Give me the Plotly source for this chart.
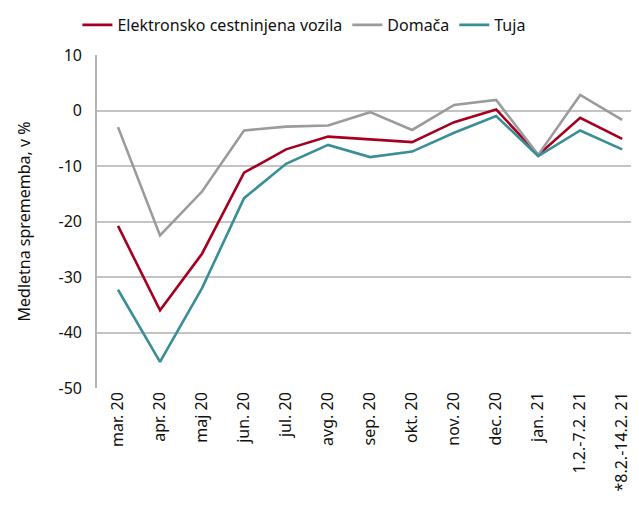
import plotly.graph_objects as go

categories = ["mar. 20", "apr. 20", "maj 20", "jun. 20", "jul. 20", "avg. 20", "sep. 20",
              "okt. 20", "nov. 20", "dec. 20", "jan. 21", "1.2.-7.2. 21", "*8.2.-14.2. 21"]
elektronsko = [-20.8, -36.0, -25.8, -11.2, -7.0, -4.7, -5.2, -5.7, -2.1, 0.2, -8.0, -1.3, -5.1]
domaca = [-3.0, -22.5, -14.6, -3.6, -2.9, -2.7, -0.3, -3.5, 1.0, 1.9, -8.0, 2.8, -1.7]
tuja = [-32.3, -45.3, -32.0, -15.8, -9.6, -6.2, -8.4, -7.4, -4.0, -1.0, -8.2, -3.6, -7.0]
y_ticks = [10, 0, -10, -20, -30, -40, -50]
y_tick_labels = ["10", "0", "-10", "-20", "-30", "-40", "-50"]

FONT = "Noto Sans"

fig = go.Figure()
fig.add_trace(go.Scatter(x=categories, y=elektronsko, mode="lines", name="Elektronsko cestninjena vozila",
                         line=dict(color="#A50021", width=2.6)))
fig.add_trace(go.Scatter(x=categories, y=domaca, mode="lines", name="Domača",
                         line=dict(color="#9B9B9B", width=2.6)))
fig.add_trace(go.Scatter(x=categories, y=tuja, mode="lines", name="Tuja",
                         line=dict(color="#3A8E96", width=2.6)))

fig.update_layout(
    width=631, height=498,
    margin=dict(l=89, r=0, t=47, b=118),
    paper_bgcolor="white", plot_bgcolor="white",
    font=dict(family=FONT, size=16, color="#111111"),
    showlegend=True,
    legend=dict(orientation="h", x=0.11, xanchor="left", xref="container",
                y=1.0, yanchor="top", yref="container",
                font=dict(size=16), traceorder="normal", itemwidth=30, tracegroupgap=0),
    xaxis=dict(type="category", tickangle=-90, showgrid=False, showline=False,
               ticks="", tickfont=dict(size=16), range=[-0.5, 12.4], automargin=False),
    yaxis=dict(range=[-50, 10], tickvals=y_ticks, ticktext=y_tick_labels,
               showgrid=True, gridcolor="#C4C4C4", gridwidth=1.6,
               zeroline=False, showline=True, linecolor="#B4B4B4", linewidth=1.6,
               ticks="", tickfont=dict(size=16), ticklabelstandoff=10, automargin=False,
               title=dict(text="Medletna sprememba, v %", font=dict(size=16), standoff=24)),
)

fig.add_annotation(text="Vir: DARS (posredovana interna poročila), preračun UMAR.",
                   xref="paper", yref="paper", x=0, y=-0.355, xanchor="left", yanchor="top",
                   showarrow=False, font=dict(size=15, family=FONT))

fig.write_html("out.html")
